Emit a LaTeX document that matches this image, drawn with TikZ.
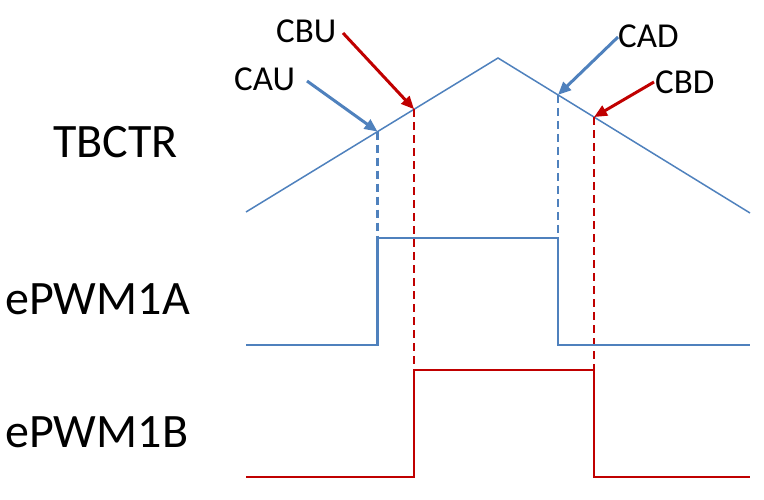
\documentclass[tikz,border=0pt]{standalone}
\usepackage{fontspec}
\setmainfont{Carlito}
\usepackage{tikz}
\usetikzlibrary{arrows.meta, calc}
\definecolor{pwmblue}{RGB}{79,129,189}
\definecolor{pwmred}{RGB}{192,0,0}

\begin{document}
\begin{tikzpicture}[x=1pt, y=-1pt, >={Triangle[length=13pt, width=11pt]}, line join=miter,
		counter/.style={draw=pwmblue, line width=1.5pt},
		wave/.style={line width=2.5pt},
		marker/.style={->, line width=3pt, shorten <=0pt},
		guide/.style={line width=2.3pt, dash pattern=on 8pt off 5pt},
		signame/.style={anchor=base west, inner sep=0pt, font=\fontsize{48}{52}\selectfont},
		event/.style={anchor=base west, inner sep=0pt, font=\fontsize{35}{40}\selectfont}]
		\useasboundingbox (0,0) rectangle (764,500);

		\node[signame]	(tbctr) at (53, 158) {TBCTR};
		\node[signame]	(pwma) at (5, 314) {ePWM1A};
		\node[signame]	(pwmb) at (5, 447) {ePWM1B};

		\node[event]	(CAU) at (234, 91) {CAU};
		\node[event]	(CBU) at (276, 43) {CBU};
		\node[event]	(CAD) at (618, 48) {CAD};
		\node[event]	(CBD) at (655, 94) {CBD};

		\coordinate (t0) at (246, 212);
		\coordinate (tp) at (498, 58);
		\coordinate (t1) at (750, 213);
		\coordinate (cau) at ($(t0)!0.522!(tp)$);
		\coordinate (cbu) at ($(t0)!0.667!(tp)$);
		\coordinate (cad) at ($(tp)!0.238!(t1)$);
		\coordinate (cbd) at ($(tp)!0.381!(t1)$);

		\coordinate (caustart) at (307, 81);
		\coordinate (cbustart) at (343, 33);
		\coordinate (cadstart) at (618, 37);
		\coordinate (cbdstart) at (654, 82);

		\coordinate (alo) at (246, 345);
		\coordinate (ahi) at (246, 238);
		\coordinate (aend) at (750, 345);
		\coordinate (blo) at (246, 477);
		\coordinate (bhi) at (246, 370);
		\coordinate (bend) at (750, 477);

		\draw[counter] (t0) -- (tp) -- (t1);

		\draw[guide, pwmblue] (cau) -- (cau |- ahi);
		\draw[guide, pwmblue] (cad) -- (cad |- ahi);
		\draw[guide, pwmred] (cbu) -- (cbu |- bhi);
		\draw[guide, pwmred] (cbd) -- (cbd |- bhi);

		\draw[wave, pwmblue] (alo) -| (cau |- ahi) -| (cad |- alo) -- (aend);
		\draw[wave, pwmred] (blo) -| (cbu |- bhi) -| (cbd |- blo) -- (bend);

		\path	(caustart) edge[marker, pwmblue] (cau)
				(cbustart) edge[marker, pwmred] (cbu)
				(cadstart) edge[marker, pwmblue] (cad)
				(cbdstart) edge[marker, pwmred] (cbd);
	\end{tikzpicture}
\end{document}
